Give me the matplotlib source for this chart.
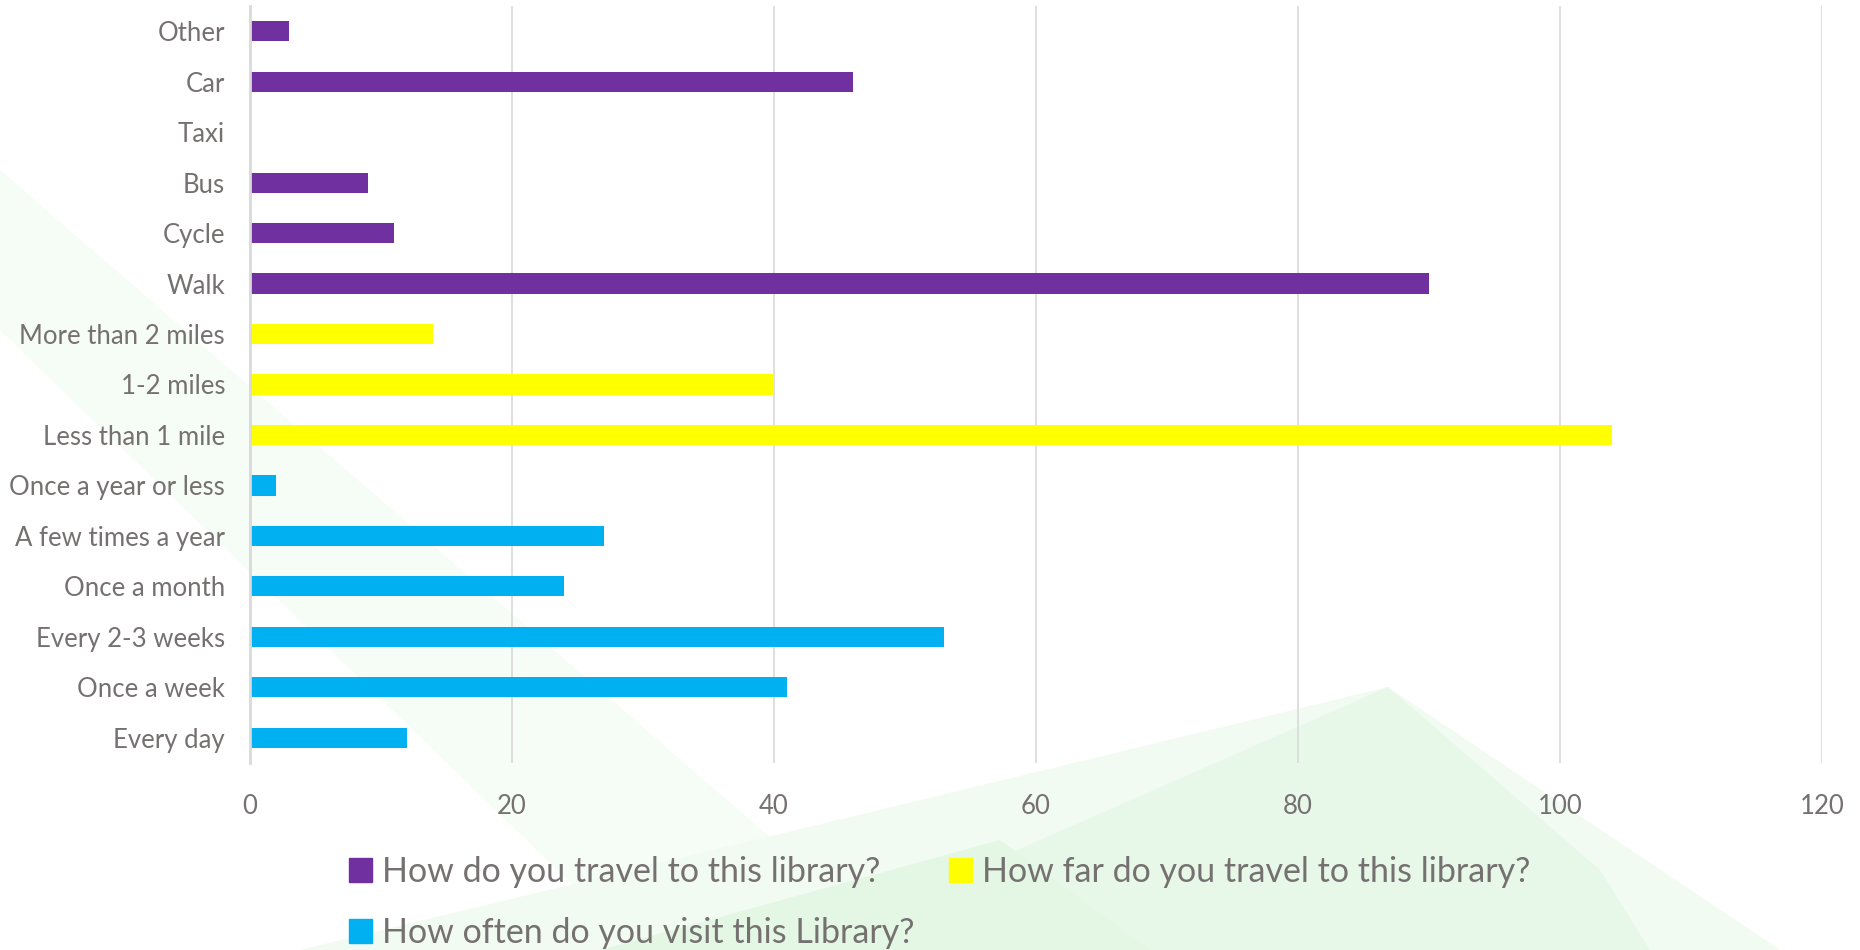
import numpy as np
import matplotlib.pyplot as plt
from matplotlib.patches import Polygon, Patch

# --- data (top of chart first) ---
travel_cats = ["Other", "Car", "Taxi", "Bus", "Cycle", "Walk"]
travel_vals = [3, 46, 0, 9, 11, 90]
far_cats = ["More than 2 miles", "1-2 miles", "Less than 1 mile"]
far_vals = [14, 40, 104]
often_cats = ["Once a year or less", "A few times a year", "Once a month",
              "Every 2-3 weeks", "Once a week", "Every day"]
often_vals = [2, 27, 24, 53, 41, 12]

series_names = ["How do you travel to this library?",
                "How far do you travel to this library?",
                "How often do you visit this Library?"]
colors = ["#7030A0", "#FFFF00", "#00B0F0"]
xticks = [0, 20, 40, 60, 80, 100, 120]

TXT = "#767171"
W, H = 1860, 950
plt.rcParams['font.family'] = ['Lato', 'DejaVu Sans']

fig = plt.figure(figsize=(W / 100, H / 100), dpi=100)
fig.patch.set_facecolor("white")

# faint green background shapes (pixel coords, y down)
bg = fig.add_axes([0, 0, 1, 1], zorder=0)
bg.set_xlim(0, W); bg.set_ylim(H, 0); bg.axis("off")
shapes = [
    ([(0, 170), (0, 330), (640, 950), (900, 950)], "#F6FCF6"),
    ([(300, 950), (1388, 687), (1780, 950)], "#F2FBF2"),
    ([(790, 950), (1388, 687), (1600, 870), (1650, 950)], "#E8F8E8"),
    ([(600, 950), (1000, 840), (1150, 950)], "#E4F7E4"),
]
for pts, c in shapes:
    bg.add_patch(Polygon(pts, closed=True, fc=c, ec="none"))

ax = fig.add_axes([250 / W, 1 - 763 / H, (1822 - 250) / W, 757 / H], zorder=1)
ax.patch.set_alpha(0)

cats = travel_cats + far_cats + often_cats
n = len(cats)
ypos = np.arange(n)
groups = [(travel_cats, travel_vals), (far_cats, far_vals), (often_cats, often_vals)]
start = 0
for (gc, gv), col, name in zip(groups, colors, series_names):
    ax.barh(ypos[start:start + len(gc)], gv, height=0.4, color=col, label=name, zorder=3)
    start += len(gc)

ax.set_ylim(n - 0.5, -0.5)
ax.set_xlim(0, 120)
ax.set_xticks(xticks)
ax.set_yticks(ypos)
ax.set_yticklabels(cats)
ax.grid(axis="x", color="#D9D9D9", linewidth=1.2, zorder=0)
for s in ["top", "right", "bottom"]:
    ax.spines[s].set_visible(False)
ax.spines["left"].set_color("#D9D9D9")
ax.spines["left"].set_linewidth(2)
ax.spines["left"].set_zorder(4)
ax.tick_params(axis="both", length=0, colors=TXT, labelsize=18.5)
ax.tick_params(axis="y", pad=18)
ax.tick_params(axis="x", pad=22)

h = [Patch(color=c) for c in colors]
order = [0, 2, 1]
leg = fig.legend([h[i] for i in order], [series_names[i] for i in order],
                 ncol=2, loc="upper left", bbox_to_anchor=(318 / W, 1 - 825 / H),
                 frameon=False, fontsize=24.5, handlelength=0.68, handleheight=0.7,
                 handletextpad=0.3, columnspacing=1.0, labelspacing=0.85,
                 labelcolor=TXT)

fig.savefig("out.png", dpi=100, facecolor="white")
